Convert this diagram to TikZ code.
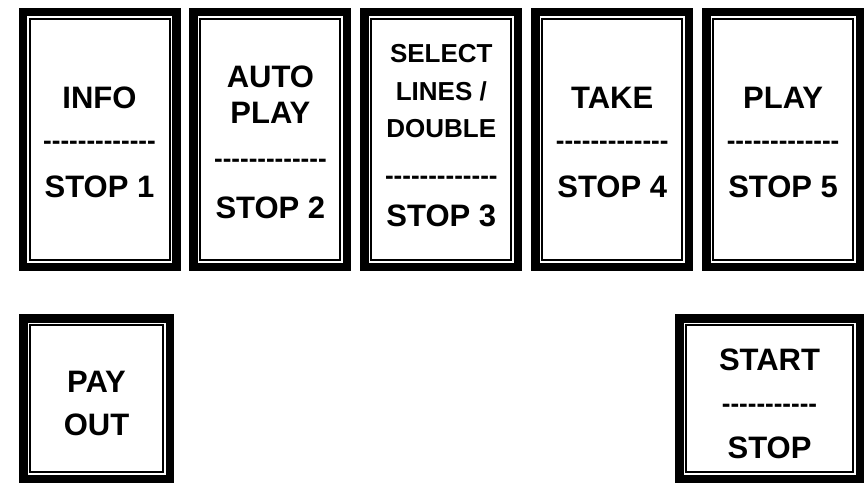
\documentclass[tikz,border=0pt]{standalone}
\usepackage{fontspec}
\setmainfont{Liberation Sans}
\usepackage{tikz}
\usetikzlibrary{positioning}
\newcommand{\btnfont}{\fontsize{31}{35}\selectfont\bfseries}
\newcommand{\smallbtnfont}{\fontsize{26}{30}\selectfont\bfseries}
\newcommand{\dashrow}{-{}-{}-{}-{}-{}-{}-{}-{}-{}-{}-{}-{}-}
\newcommand{\shortdashrow}{-{}-{}-{}-{}-{}-{}-{}-{}-{}-{}-}

\begin{document}
\begin{tikzpicture}[x=1pt,y=-1pt,
    lbl/.style={font=\btnfont,anchor=base,inner sep=0pt},
    smalllbl/.style={font=\smallbtnfont,anchor=base,inner sep=0pt},
    dsh/.style={font=\smallbtnfont,anchor=base,inner sep=0pt}]
        \fill[white] (0,0) rectangle (866,484);
        % button frames: outer black band, white gap, thin inner line
        \foreach \x/\y/\w/\h in {
          18.5/8/162/263, 189.4/8/162/263, 360.3/8/162/263,
          531.2/8/162/263, 702.1/8/162/263,
        19/314/155/169, 675/314/189/169}{
          \fill[black] (\x,\y) rectangle ++(\w,\h);
          \fill[white] (\x+8.5,\y+8.5) rectangle ++(\w-17,\h-17);
          \draw[line width=2pt] (\x+11,\y+11) rectangle ++(\w-22,\h-22);
        }
        % one-word buttons
        \foreach \n/\cx/\lt/\lb in {info/99.5/INFO/STOP 1, take/612.2/TAKE/STOP 4, play/783.1/PLAY/STOP 5}{
          \node[lbl] (\n-top) at (\cx,108) {\lt};
          \node[dsh] (\n-dash) at (\cx,149) {\dashrow};
          \node[lbl] (\n-bot) at (\cx,197) {\lb};
        }
        \node[lbl] (auto-a) at (270.4,88) {AUTO};
        \node[lbl] (auto-b) at (270.4,123) {PLAY};
        \node[dsh] (auto-dash) at (270.4,167) {\dashrow};
        \node[lbl] (auto-bot) at (270.4,218) {STOP 2};
        \node[smalllbl] (sel-a) at (441.3,63) {SELECT};
        \node[smalllbl] (sel-b) at (441.3,100) {LINES /};
        \node[smalllbl] (sel-c) at (441.3,137) {DOUBLE};
        \node[dsh] (sel-dash) at (441.3,184) {\dashrow};
        \node[lbl] (sel-bot) at (441.3,226) {STOP 3};
        \node[lbl] (pay-a) at (96.5,392) {PAY};
        \node[lbl] (pay-b) at (96.5,435) {OUT};
        \node[lbl] (start-top) at (769.5,370) {START};
        \node[dsh] (start-dash) at (769.5,412) {\shortdashrow};
        \node[lbl] (start-bot) at (769.5,458) {STOP};
      \end{tikzpicture}
\end{document}
